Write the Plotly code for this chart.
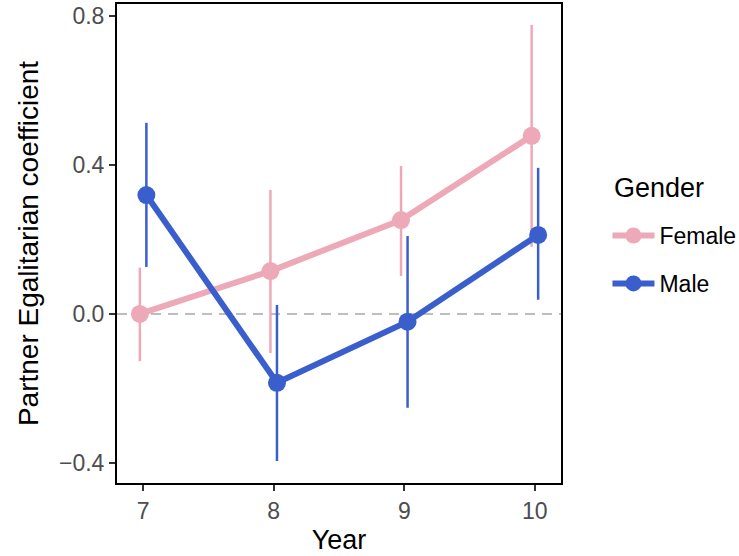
import plotly.graph_objects as go

years = [7, 8, 9, 10]
female_est = [0.0, 0.115, 0.252, 0.478]
female_lo = [-0.127, -0.105, 0.102, 0.18]
female_hi = [0.124, 0.333, 0.397, 0.776]
male_est = [0.319, -0.185, -0.021, 0.212]
male_lo = [0.126, -0.395, -0.252, 0.038]
male_hi = [0.513, 0.024, 0.209, 0.392]
y_ticks = [-0.4, 0.0, 0.4, 0.8]
y_tick_labels = ["\u22120.4", "0.0", "0.4", "0.8"]

PINK = "#EEA9B8"
BLUE = "#3A5FCD"
dodge = 0.025

fig = go.Figure()

def add_series(name, est, lo, hi, color, off):
    xs = [y + off for y in years]
    fig.add_trace(go.Scatter(
        x=xs, y=est, mode="lines+markers", name=name,
        legendgroup=name,
        line=dict(color=color, width=6),
        marker=dict(color=color, size=18),
        error_y=dict(type="data", symmetric=False,
                     array=[h - e for h, e in zip(hi, est)],
                     arrayminus=[e - l for e, l in zip(est, lo)],
                     color=color, thickness=2.5, width=0),
    ))

fig.add_hline(y=0, line=dict(color="#BEBEBE", width=2, dash="10px,7px"), layer="below")
add_series("Female", female_est, female_lo, female_hi, PINK, -dodge)
add_series("Male", male_est, male_lo, male_hi, BLUE, dodge)

fig.add_annotation(
    text="Gender", xref="paper", yref="paper", x=1.115, y=0.615,
    xanchor="left", yanchor="middle", showarrow=False,
    font=dict(size=27, color="black"),
)

fig.update_layout(
    width=739, height=556,
    margin=dict(l=117, r=178, t=4, b=73),
    paper_bgcolor="white", plot_bgcolor="white",
    font=dict(family="Liberation Sans, Arial, sans-serif"),
    legend=dict(
        font=dict(size=23, color="black"),
        xref="container", yref="container",
        x=0.822, y=0.615, xanchor="left", yanchor="top",
        traceorder="grouped", tracegroupgap=15, itemwidth=42,
    ),
    xaxis=dict(
        range=[6.8, 10.2], tickvals=years, ticktext=[str(y) for y in years],
        showgrid=False, zeroline=False, automargin=False,
        showline=True, linecolor="black", linewidth=2, mirror=True,
        ticks="outside", ticklen=6, tickwidth=2, tickcolor="#333333",
        tickfont=dict(size=23, color="#4D4D4D"),
        title=dict(text="Year", font=dict(size=27, color="black"), standoff=8),
    ),
    yaxis=dict(
        range=[-0.454, 0.832], tickvals=y_ticks, ticktext=y_tick_labels,
        showgrid=False, zeroline=False, automargin=False,
        showline=True, linecolor="black", linewidth=2, mirror=True,
        ticks="outside", ticklen=6, tickwidth=2, tickcolor="#333333",
        tickfont=dict(size=23, color="#4D4D4D"),
        title=dict(text="Partner Egalitarian coefficient", font=dict(size=28, color="black"), standoff=12),
    ),
)

fig.write_html("out.html", config={"displayModeBar": False},
               post_script="document.body.style.margin='0px';")
